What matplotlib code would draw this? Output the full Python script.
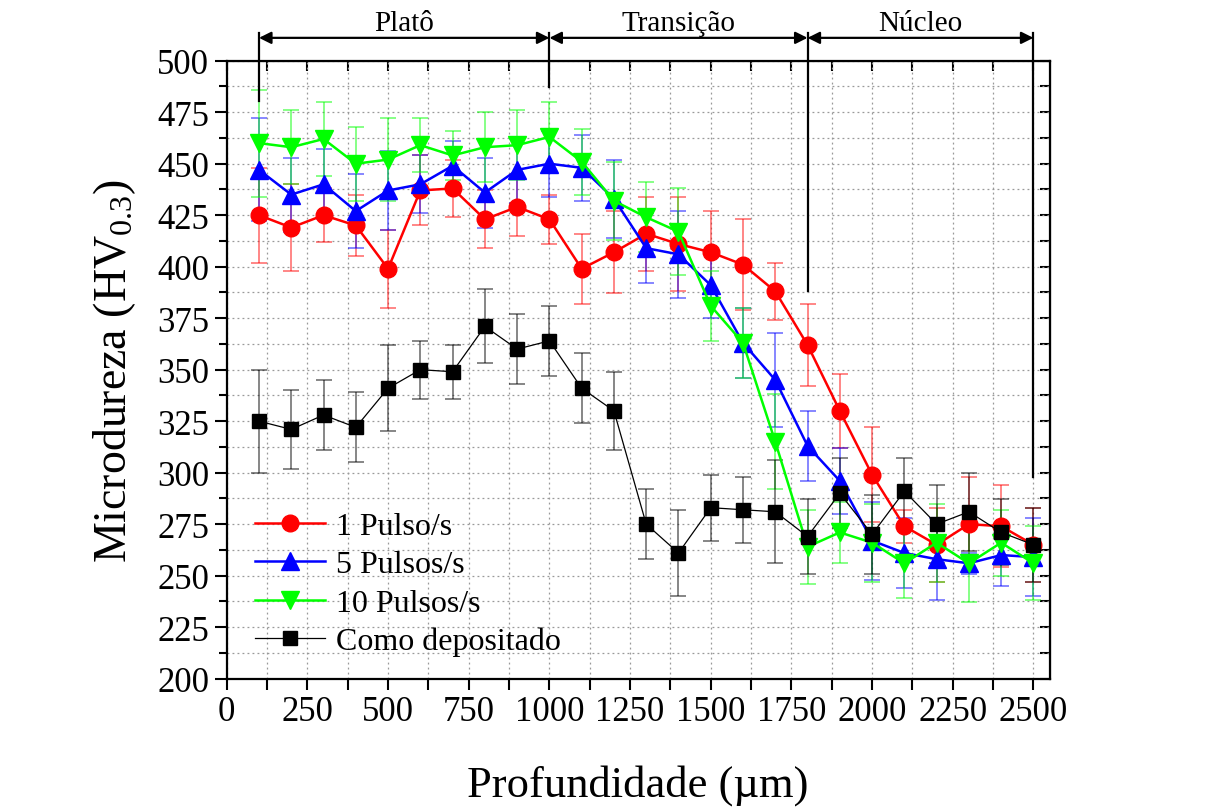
import matplotlib
matplotlib.use('Agg')
import matplotlib.pyplot as plt
from matplotlib.ticker import MultipleLocator
import matplotlib.transforms as mtransforms

plt.rcParams['font.family'] = ['Liberation Serif', 'DejaVu Serif']
plt.rcParams['mathtext.fontset'] = 'custom'
plt.rcParams['mathtext.rm'] = 'Liberation Serif'
plt.rcParams['mathtext.it'] = 'Liberation Serif:italic'

''' Data '''
depth = [100, 200, 300, 400, 500, 600, 700, 800, 900, 1000, 1100, 1200, 1300,
         1400, 1500, 1600, 1700, 1800, 1900, 2000, 2100, 2200, 2300, 2400, 2500]

p1 = [425, 419, 425, 420, 399, 437, 438, 423, 429, 423, 399, 407, 416,
      411, 407, 401, 388, 362, 330, 299, 274, 265, 275, 274, 265]
p1_err = [23, 21, 13, 15, 19, 17, 14, 14, 14, 12, 17, 20, 18,
          23, 20, 22, 14, 20, 18, 23, 8, 18, 23, 20, 18]

p5 = [447, 435, 440, 427, 437, 440, 449, 436, 447, 450, 448, 433, 409,
      406, 391, 363, 345, 313, 296, 267, 261, 258, 256, 260, 259]
p5_err = [25, 18, 17, 18, 19, 14, 12, 17, 16, 16, 16, 19, 17,
          21, 16, 17, 23, 17, 16, 19, 17, 20, 5, 15, 19]

p10 = [460, 458, 462, 450, 452, 459, 454, 458, 459, 463, 451, 432, 424,
       417, 381, 363, 315, 264, 271, 266, 256, 266, 256, 266, 256]
p10_err = [26, 18, 18, 18, 20, 13, 12, 17, 17, 17, 16, 19, 17,
           21, 17, 17, 23, 18, 15, 19, 17, 19, 19, 16, 18]

dep = [325, 321, 328, 322, 341, 350, 349, 371, 360, 364, 341, 330, 275,
       261, 283, 282, 281, 269, 290, 270, 291, 275, 281, 271, 265]
dep_err = [25, 19, 17, 17, 21, 14, 13, 18, 17, 17, 17, 19, 17,
           21, 16, 16, 25, 18, 17, 19, 16, 19, 19, 16, 18]

series = [
    ('1 Pulso/s', p1, p1_err, '#ff0000', 'o', 12, 1.8),
    ('5 Pulsos/s', p5, p5_err, '#0000ff', '^', 13, 1.8),
    ('10 Pulsos/s', p10, p10_err, '#00ff00', 'v', 13, 1.8),
    ('Como depositado', dep, dep_err, '#000000', 's', 10, 0.9),
]

zones = [(100, 1000, 'Platô'), (1000, 1800, 'Transição'), (1800, 2500, 'Núcleo')]
zone_lines = [(100, 0.935), (1000, 0.958), (1800, 0.628), (2500, 0.327)]

fig = plt.figure(figsize=(12.19, 8.12), dpi=100)
ax = fig.add_axes([0.186, 0.163, 0.675, 0.761])

for label, vals, errs, col, mk, ms, lw in series:
    ax.errorbar(depth, vals, yerr=errs, fmt='none', ecolor=col, alpha=0.6,
                elinewidth=1.1, capsize=6, capthick=1.1)
for label, vals, errs, col, mk, ms, lw in series:
    ax.plot(depth, vals, color=col, marker=mk, markersize=ms, linewidth=lw,
            markerfacecolor=col, markeredgecolor=col, label=label)

ax.set_xlim(0, 2550)
ax.set_ylim(200, 500)
ax.xaxis.set_major_locator(MultipleLocator(250))
ax.xaxis.set_minor_locator(MultipleLocator(125))
ax.yaxis.set_major_locator(MultipleLocator(25))
ax.yaxis.set_minor_locator(MultipleLocator(12.5))
ax.grid(which='both', linestyle=(0, (1.5, 2.5)), color='#999999', linewidth=0.9)
ax.set_axisbelow(True)

ax.tick_params(which='both', direction='out', labelsize=25, width=1.5)
ax.tick_params(which='major', length=9)
ax.tick_params(which='minor', length=6)
ax.tick_params(axis='x', which='both', length=8)
for s in ax.spines.values():
    s.set_linewidth(1.6)

top = ax.secondary_xaxis('top')
top.xaxis.set_major_locator(MultipleLocator(125))
top.tick_params(direction='in', length=7, width=1.5, labeltop=False)
right = ax.secondary_yaxis('right')
right.yaxis.set_major_locator(MultipleLocator(12.5))
right.tick_params(direction='in', length=7, width=1.5, labelright=False)

ax.set_xlabel('Profundidade (µm)', fontsize=32, labelpad=26)
ax.set_ylabel('Microdureza (HV$_{0.3}$)', fontsize=33, labelpad=14)

ax.legend(loc='upper left', bbox_to_anchor=(0.034, 0.27), frameon=False,
          fontsize=23, handlelength=2.2, handletextpad=0.35, labelspacing=0.28,
          borderpad=0, borderaxespad=0)

trans = mtransforms.blended_transform_factory(ax.transData, ax.transAxes)
for x0, x1, name in zones:
    ax.annotate('', xy=(x0, 1.037), xytext=(x1, 1.037), xycoords=trans,
                textcoords=trans, annotation_clip=False,
                arrowprops=dict(arrowstyle='<|-|>', color='black', lw=1.6,
                                mutation_scale=18, shrinkA=0, shrinkB=0))
    ax.text((x0 + x1) / 2, 1.049, name, transform=trans, ha='center',
            va='baseline', fontsize=21, clip_on=False)
for xl, yb in zone_lines:
    ax.plot([xl, xl], [yb, 1.045], transform=trans, color='black',
            linewidth=1.6, clip_on=False)

fig.savefig('out.png', dpi=100)
